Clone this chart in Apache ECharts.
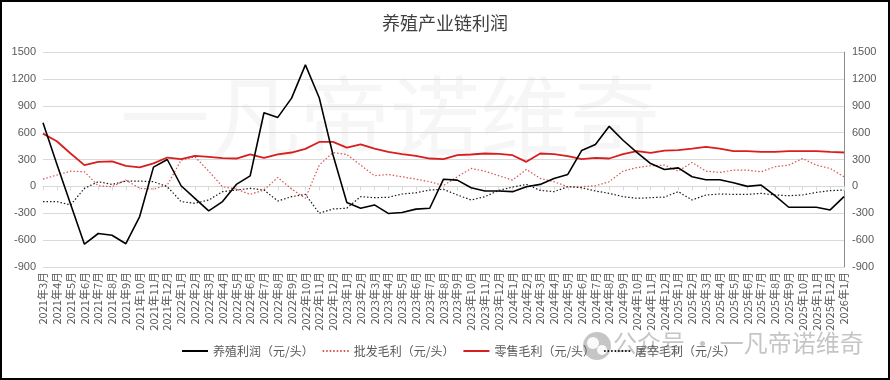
<!DOCTYPE html>
<html>
<head>
<meta charset="utf-8">
<script src="https://cdn.jsdelivr.net/npm/echarts@6/dist/echarts.min.js"></script>
<style>
html,body{margin:0;padding:0;background:#fff;}
#c{position:absolute;left:0;top:0;width:890px;height:380px;}
#b{position:absolute;left:0;top:0;width:890px;height:380px;box-sizing:border-box;border:2px solid #000;pointer-events:none;}
</style>
</head>
<body>
<div id="c"></div>
<div id="b"></div>
<script>
const categories = [
 '2021年3月','2021年4月','2021年5月','2021年6月','2021年7月','2021年8月','2021年9月','2021年10月','2021年11月','2021年12月',
 '2022年1月','2022年2月','2022年3月','2022年4月','2022年5月','2022年6月','2022年7月','2022年8月','2022年9月','2022年10月','2022年11月','2022年12月',
 '2023年1月','2023年2月','2023年3月','2023年4月','2023年5月','2023年6月','2023年7月','2023年8月','2023年9月','2023年10月','2023年11月','2023年12月',
 '2024年1月','2024年2月','2024年3月','2024年4月','2024年5月','2024年6月','2024年7月','2024年8月','2024年9月','2024年10月','2024年11月','2024年12月',
 '2025年1月','2025年2月','2025年3月','2025年4月','2025年5月','2025年6月','2025年7月','2025年8月','2025年9月','2025年10月','2025年11月','2025年12月',
 '2026年1月'
];
const farmProfit = [710,250,-200,-645,-526,-545,-640,-337,215,300,7,-133,-274,-170,22,118,822,770,985,1356,990,350,-181,-244,-207,-302,-291,-254,-244,80,70,-15,-52,-52,-59,-4,22,89,133,400,467,670,515,380,255,189,207,107,74,74,41,0,15,-104,-233,-233,-233,-263,-115];
const wholesaleMargin = [81,126,170,163,7,-4,70,-22,-30,15,293,330,170,-4,-30,-89,-41,100,-30,-133,237,378,356,237,119,133,107,81,52,10,107,200,170,119,70,189,89,52,-4,-4,7,52,170,210,230,237,170,267,170,156,181,181,163,219,237,311,237,200,107];
const retailMargin = [589,504,367,237,274,278,230,211,256,322,304,341,330,315,311,356,319,356,378,419,496,496,433,470,422,385,359,341,311,304,348,356,367,363,348,274,367,359,337,304,319,311,359,393,374,400,404,422,441,422,393,393,385,385,393,393,393,385,378];
const slaughterMargin = [-170,-170,-207,-22,52,22,59,59,52,-4,-170,-189,-152,-59,-41,-22,-41,-163,-115,-89,-300,-252,-244,-115,-126,-122,-85,-72,-41,-33,-96,-152,-115,-45,-8,22,-45,-59,-4,-15,-52,-78,-115,-133,-126,-119,-59,-152,-96,-85,-89,-89,-78,-96,-104,-96,-67,-48,-41];
const seriesNames = ['养殖利润（元/头）','批发毛利（元/头）','零售毛利（元/头）','屠宰毛利（元/头）'];
const yMin = -900, yMax = 1500, yStep = 300;

const chart = echarts.init(document.getElementById('c'), null, {renderer:'canvas'});
const axisLabelStyle = {color:'#595959', fontSize:11, fontFamily:'Liberation Sans, Arial, sans-serif',
  formatter:function(v){return String(v);}};
chart.setOption({
  animation:false,
  backgroundColor:'#fff',
  title:{text:'养殖产业链利润', left:'center', top:9,
    textStyle:{fontSize:18, fontWeight:'normal', color:'#404040', fontFamily:'Noto Sans CJK SC'}},
  graphic:[
    {type:'text', left:120, top:72, z:-10, silent:true,
     style:{text:'一凡帝诺维奇', fontSize:90, fill:'rgba(0,0,0,0.035)', fontFamily:'Noto Sans CJK SC'}},
    {type:'circle', shape:{cx:597, cy:346, r:14}, z:-10, silent:true, style:{fill:'rgba(150,150,150,0.55)'}},
    {type:'circle', shape:{cx:593, cy:343, r:6}, z:-9, silent:true, style:{fill:'rgba(255,255,255,0.9)'}},
    {type:'circle', shape:{cx:602, cy:350, r:5}, z:-9, silent:true, style:{fill:'rgba(255,255,255,0.9)'}},
    {type:'text', left:613, top:331, z:-10, silent:true,
     style:{text:'公众号 · 一凡帝诺维奇', fontSize:24, fill:'rgba(150,150,150,0.55)', fontFamily:'Noto Sans CJK SC'}}
  ],
  legend:{left:176, top:340, itemWidth:26, itemHeight:10, itemGap:8,
    itemStyle:{opacity:0},
    textStyle:{color:'#595959', fontSize:12, fontFamily:'Noto Sans CJK SC'},
    data:seriesNames},
  grid:{left:43, right:46, top:52, bottom:113, containLabel:false},
  xAxis:{type:'category', data:categories, boundaryGap:false,
    axisLine:{lineStyle:{color:'#d9d9d9'}},
    axisTick:{show:true, alignWithLabel:true, length:4, lineStyle:{color:'#d9d9d9'}},
    axisLabel:{interval:0, rotate:90, color:'#595959', fontSize:11, margin:5, fontFamily:'Noto Sans CJK SC'},
    splitLine:{show:false}},
  yAxis:[
    {type:'value', min:yMin, max:yMax, interval:yStep, position:'left',
     axisLine:{show:false}, axisTick:{show:false},
     axisLabel:Object.assign({margin:7}, axisLabelStyle),
     splitLine:{lineStyle:{color:'#d9d9d9', width:1}}},
    {type:'value', min:yMin, max:yMax, interval:yStep, position:'right',
     axisLine:{show:true, lineStyle:{color:'#8c8c8c'}}, axisTick:{show:false},
     axisLabel:Object.assign({margin:8}, axisLabelStyle),
     splitLine:{show:false}}
  ],
  series:[
    {name:seriesNames[0], type:'line', data:farmProfit, symbol:'none', z:5,
     lineStyle:{color:'#000000', width:1.6}, itemStyle:{color:'#000000'}},
    {name:seriesNames[1], type:'line', data:wholesaleMargin, symbol:'none', z:3,
     lineStyle:{color:'#d9534f', width:1.2, type:[1.5,2]}, itemStyle:{color:'#d9534f'}},
    {name:seriesNames[2], type:'line', data:retailMargin, symbol:'none', z:4,
     lineStyle:{color:'#d81e1e', width:1.8}, itemStyle:{color:'#d81e1e'}},
    {name:seriesNames[3], type:'line', data:slaughterMargin, symbol:'none', z:3,
     lineStyle:{color:'#1a1a1a', width:1.2, type:[1.5,2]}, itemStyle:{color:'#1a1a1a'}}
  ]
});
</script>
</body>
</html>
